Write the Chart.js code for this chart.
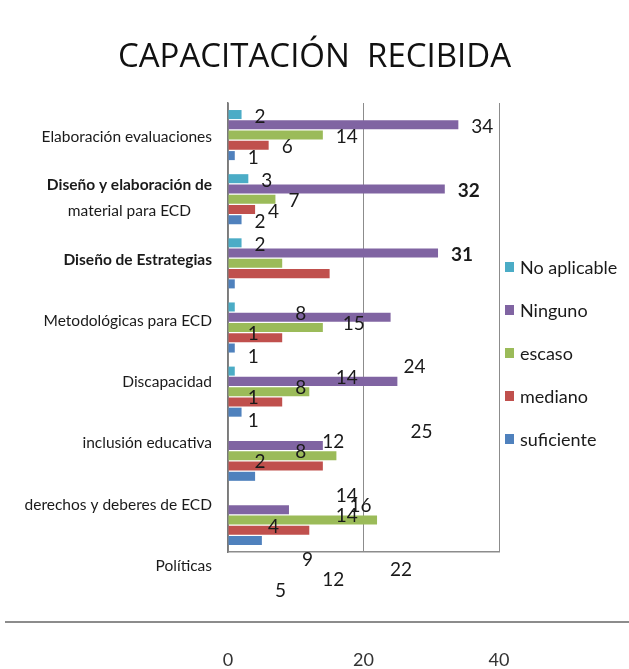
<!DOCTYPE html>
<html>
<head>
<meta charset="utf-8">
<script src="https://cdn.jsdelivr.net/npm/chart.js@4.4.1/dist/chart.umd.min.js"></script>
<style>
  html, body { margin: 0; padding: 0; background: #ffffff; }
  #wrap { width: 629px; height: 669px; }
</style>
</head>
<body>
<div id="wrap"><canvas id="c" width="629" height="669"></canvas></div>
<script>
// ---------------- data ----------------
const categories = [
  'Elaboración evaluaciones',
  ['Diseño y elaboración de', 'material para ECD'],
  'Diseño de Estrategias',
  'Metodológicas para ECD',
  'Discapacidad',
  'inclusión educativa',
  'derechos y deberes de ECD',
  'Políticas'
];
const seriesNames = ['No aplicable', 'Ninguno', 'escaso', 'mediano', 'suficiente'];
const noAplicable = [2, 3, 2, 1, 1, 0, 0];
const ninguno     = [34, 32, 31, 24, 25, 14, 9];
const escaso      = [14, 7, 8, 14, 12, 16, 22];
const mediano     = [6, 4, 15, 8, 8, 14, 12];
const suficiente  = [1, 2, 1, 1, 2, 4, 5];
const xTicks = [0, 20, 40];
const chartTitle = 'CAPACITACIÓN  RECIBIDA';

// ---------------- style ----------------
const colors = ['#4BACC6', '#8064A2', '#9BBB59', '#C0504D', '#4F81BD'];
const FONT = 'Lato';
const TEXT = '#1a1a1a';
const LINE = '#8c8c8c';
const LABEL_PITCH = 0.955;      // category names are spaced slightly tighter than the bar bands
const LABEL_SHIFT_FROM = 12;    // value labels from this one on sit lower, as in the source
const boldLine = (ci, li) => li === 0 && (ci === 1 || ci === 2);
const boldValue = (ci, di) => di === 1 && (ci === 1 || ci === 2);

const seriesValues = [noAplicable, ninguno, escaso, mediano, suficiente];

const drawPlugin = {
  id: 'extraDraw',
  afterDraw(chart) {
    const ctx = chart.ctx;
    const ca = chart.chartArea;
    const ys = chart.scales.y;
    const band = ys.getPixelForValue(1) - ys.getPixelForValue(0);
    ctx.save();

    // category names
    ctx.fillStyle = TEXT;
    ctx.textBaseline = 'middle';
    const rightEdge = ca.left - 16;
    const lineGap = 26;
    categories.forEach((cat, ci) => {
      const lines = Array.isArray(cat) ? cat : [cat];
      const cy = ys.getPixelForValue(ci * LABEL_PITCH) + 2;
      const widths = lines.map((t, li) => {
        ctx.font = (boldLine(ci, li) ? 'bold ' : '') + '15.5px ' + FONT;
        return ctx.measureText(t).width;
      });
      const maxW = Math.max(...widths);
      const center = rightEdge - maxW / 2;
      lines.forEach((t, li) => {
        ctx.font = (boldLine(ci, li) ? 'bold ' : '') + '15.5px ' + FONT;
        ctx.textAlign = 'center';
        const y = cy + (li - (lines.length - 1) / 2) * lineGap;
        ctx.fillText(t, center, y);
      });
    });

    // value labels
    ctx.textAlign = 'left';
    const nSeries = chart.data.datasets.length;
    chart.data.datasets.forEach((ds, di) => {
      const meta = chart.getDatasetMeta(di);
      meta.data.forEach((bar, ci) => {
        const v = ds.data[ci];
        if (!v) return;
        const order = ci * nSeries + di;
        const shift = order >= LABEL_SHIFT_FROM ? 0.75 * band : 0;
        ctx.font = (boldValue(ci, di) ? 'bold ' : '') + '19px ' + FONT;
        ctx.fillStyle = TEXT;
        ctx.fillText(String(v), bar.x + 13, bar.y + 2 + shift);
      });
    });

    // legend
    chart.data.datasets.forEach((ds, di) => {
      const y = ca.top + 164 + di * 43;
      ctx.fillStyle = ds.backgroundColor;
      ctx.fillRect(ca.right + 6, y - 5, 9, 10);
      ctx.fillStyle = TEXT;
      ctx.font = '18px ' + FONT;
      ctx.textAlign = 'left';
      ctx.fillText(ds.label, ca.right + 21, y + 1);
    });

    // separator line above the axis numbers
    ctx.strokeStyle = LINE;
    ctx.lineWidth = 2;
    ctx.beginPath();
    const ly = ca.bottom + 70;
    ctx.moveTo(5, ly);
    ctx.lineTo(chart.width, ly);
    ctx.stroke();

    ctx.restore();
  }
};

new Chart(document.getElementById('c'), {
  type: 'bar',
  data: {
    labels: categories,
    datasets: seriesNames.map((name, i) => ({
      label: name,
      data: seriesValues[i],
      backgroundColor: colors[i],
      borderWidth: 0,
      categoryPercentage: 0.8,
      barPercentage: 0.88
    }))
  },
  options: {
    indexAxis: 'y',
    responsive: false,
    animation: false,
    devicePixelRatio: 1,
    layout: { padding: { left: 0, right: 0, top: 0, bottom: 1 } },
    plugins: {
      legend: { display: false },
      tooltip: { enabled: false },
      title: {
        display: true,
        text: chartTitle,
        color: '#111111',
        font: { family: 'Open Sans', size: 33, weight: 'normal', lineHeight: 1.2 },
        padding: { top: 38, bottom: 25.4 }
      }
    },
    scales: {
      x: {
        type: 'linear',
        position: 'bottom',
        min: xTicks[0],
        max: xTicks[xTicks.length - 1],
        afterFit(scale) { scale.height = 116; },
        ticks: {
          stepSize: xTicks[1] - xTicks[0],
          padding: 97,
          color: '#333333',
          font: { family: FONT, size: 18 }
        },
        grid: { display: true, color: LINE, lineWidth: 1, drawTicks: false },
        border: { display: true, color: LINE, width: 1.5 }
      },
      y: {
        type: 'category',
        position: 'left',
        max: ninguno.length - 1,
        afterFit(scale) { scale.width = 228; },
        ticks: { display: false },
        grid: { display: false, drawTicks: false },
        border: { display: true, color: '#7a7a7a', width: 1.5 }
      },
      yLegendSpace: {
        type: 'category',
        position: 'right',
        display: true,
        afterFit(scale) { scale.width = 130; },
        ticks: { display: false },
        grid: { display: false, drawTicks: false },
        border: { display: false }
      }
    }
  },
  plugins: [drawPlugin]
});
</script>
</body>
</html>
